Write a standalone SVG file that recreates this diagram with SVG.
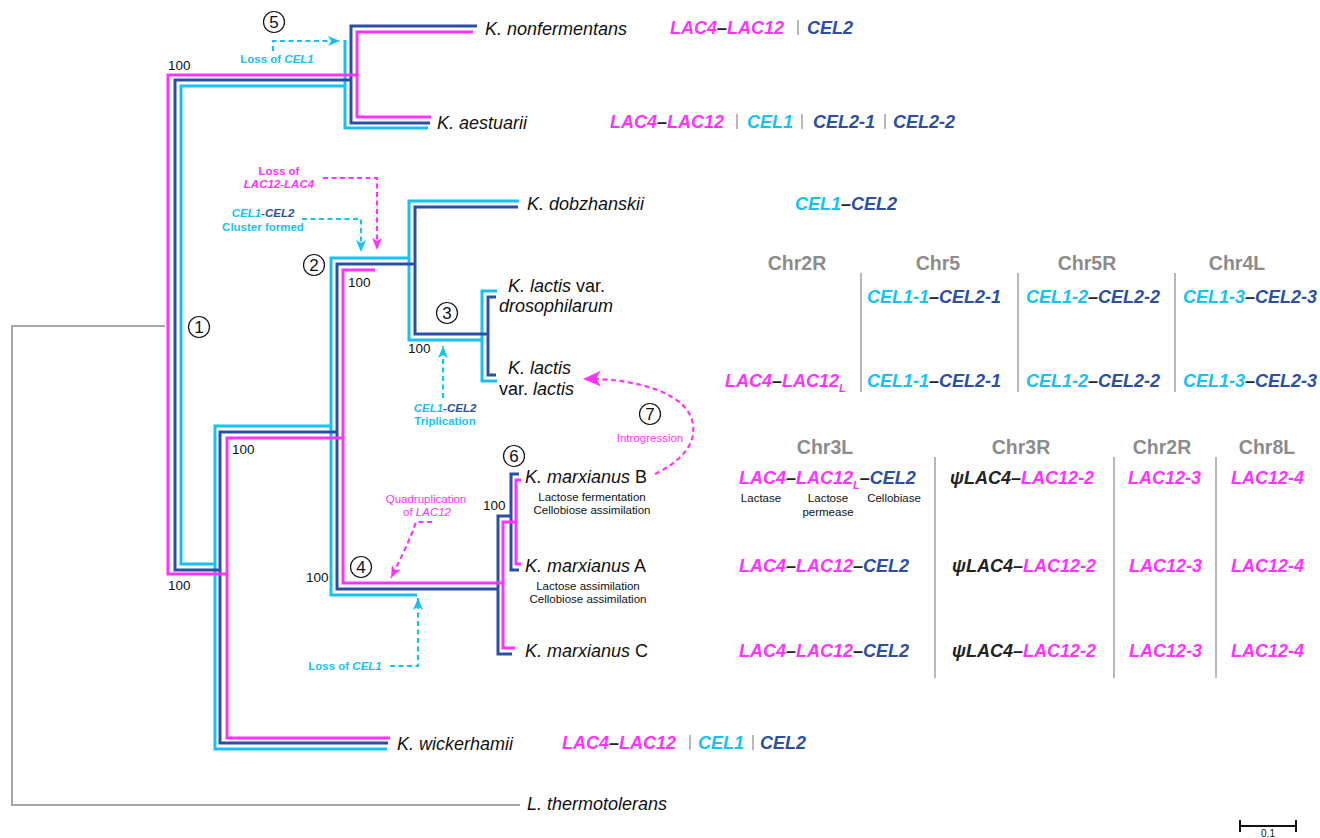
<svg xmlns="http://www.w3.org/2000/svg" width="1320" height="838" viewBox="0 0 1320 838">
<style>
text{font-family:"Liberation Sans",Arial,sans-serif}
.sp{font-style:italic;font-size:18px;fill:#111}
.r{font-style:normal}
.g{font-style:italic;font-weight:bold;font-size:18px}
.m{fill:#FF33FF}.c{fill:#17C2F2}.b{fill:#2D4FA3}.k{fill:#222}
.hd{font-weight:bold;font-size:19.5px;fill:#8c8c8c;text-anchor:middle}
.bs{font-size:13.5px;fill:#111}
.sm{font-size:11.5px;fill:#111;text-anchor:middle}
.an{font-size:11.5px;font-weight:bold;text-anchor:middle}
.anr{font-size:11.5px;text-anchor:middle}
.num{font-size:17px;fill:#111;text-anchor:middle}
.tm{stroke:#FF33FF;stroke-width:3;fill:none}
.tb{stroke:#2D4FA3;stroke-width:3;fill:none}
.tc{stroke:#17C2F2;stroke-width:3;fill:none}
.tg{stroke:#a6a6a6;stroke-width:2;fill:none}
.bar{stroke:#a6a6a6;stroke-width:1.6}
.sep{stroke:#a6a6a6;stroke-width:1.6}
.dc{stroke:#17C2F2;stroke-width:2.2;fill:none;stroke-dasharray:5 3.5}
.dm{stroke:#FF33FF;stroke-width:2.2;fill:none;stroke-dasharray:5 3.5}
.circ{fill:#fff;stroke:#111;stroke-width:1.2}
</style>
<defs>
<marker id="ac" markerUnits="userSpaceOnUse" viewBox="0 0 12 10" markerWidth="12" markerHeight="10" refX="12" refY="5" orient="auto"><path d="M0,0 L12,5 L0,10 L3,5 Z" fill="#17C2F2"/></marker>
<marker id="am" markerUnits="userSpaceOnUse" viewBox="0 0 12 10" markerWidth="12" markerHeight="10" refX="12" refY="5" orient="auto"><path d="M0,0 L12,5 L0,10 L3,5 Z" fill="#FF33FF"/></marker>
<marker id="amb" markerUnits="userSpaceOnUse" viewBox="0 0 18 16" markerWidth="18" markerHeight="16" refX="18" refY="8" orient="auto"><path d="M0,0 L18,8 L0,16 L5,8 Z" fill="#FF33FF"/></marker>
</defs>

<g id="connectors">
<path class="tg" d="M165,326 L12,326 L12,805 L520,805"/>
<path class="tc" d="M345,40 L345,128 L428,128"/>
<path class="tc" d="M345,86 L181,86 L181,564 L215,564"/>
<path class="tc" d="M331,426 L215,426 L215,749 L387,749"/>
<path class="tc" d="M409,258 L331,258 L331,595 L417,595"/>
<path class="tc" d="M519,201 L409,201 L409,340 L482,340"/>
<path class="tc" d="M497,291 L482,291 L482,381 L497,381"/>
<path class="tb" d="M477,26 L351,26 L351,123 L430,123"/>
<path class="tb" d="M351,80 L175,80 L175,570 L220,570"/>
<path class="tb" d="M337,432 L220,432 L220,743 L388,743"/>
<path class="tb" d="M415,264 L337,264 L337,589 L498,589"/>
<path class="tb" d="M518,207 L415,207 L415,334 L488,334"/>
<path class="tb" d="M496,297 L488,297 L488,375 L496,375"/>
<path class="tb" d="M511,516 L498,516 L498,654 L512,654"/>
<path class="tb" d="M519,474 L511,474 L511,570 L519,570"/>
<path class="tm" d="M473,32 L357,32 L357,117 L431,117"/>
<path class="tm" d="M357,75 L168,75 L168,574 L227,574"/>
<path class="tm" d="M343,438 L227,438 L227,738 L390,738"/>
<path class="tm" d="M375,270 L343,270 L343,583 L503,583"/>
<path class="tm" d="M516,522 L503,522 L503,648 L515,648"/>
<path class="tm" d="M521,480 L516,480 L516,564 L521,564"/>
<path stroke="#111" stroke-width="2" fill="none" d="M1239,826 L1297,826 M1240,820 L1240,832 M1296,820 L1296,832"/>
<path class="dc" d="M273,51 L273,41 L340,41" marker-end="url(#ac)"/>
<path class="dc" d="M302,219 L361,219 L361,252" marker-end="url(#ac)"/>
<path class="dm" d="M323,178 L377,178 L377,250" marker-end="url(#am)"/>
<path class="dc" d="M443,398 L443,346" marker-end="url(#ac)"/>
<path class="dm" d="M432,522 L416,522 C410,540 400,560 391,578" marker-end="url(#am)"/>
<path class="dc" d="M390,666 L418,666 L418,598" marker-end="url(#ac)"/>
<path class="dm" d="M655,474 C680,462 696,445 693,425 C690,395 640,378 583,379" marker-end="url(#amb)"/>
</g>

<g id="bootstrap">
<text class="bs" x="168" y="70">100</text>
<text class="bs" x="168" y="590">100</text>
<text class="bs" x="232" y="454">100</text>
<text class="bs" x="306" y="582">100</text>
<text class="bs" x="348" y="287">100</text>
<text class="bs" x="408" y="353">100</text>
<text class="bs" x="483" y="510">100</text>
<text x="1268" y="837" font-size="10" text-anchor="middle" fill="#111">0.1</text>
</g>

<g id="events">
<g id="ev1"><circle class="circ" cx="199" cy="327" r="10.5"/><text class="num" x="199" y="333">1</text></g>
<g id="ev2"><circle class="circ" cx="314" cy="265" r="10.5"/><text class="num" x="314" y="271">2</text></g>
<g id="ev3"><circle class="circ" cx="447" cy="313" r="10.5"/><text class="num" x="447" y="319">3</text></g>
<g id="ev4"><circle class="circ" cx="361" cy="567" r="10.5"/><text class="num" x="361" y="573">4</text></g>
<g id="ev5"><circle class="circ" cx="274" cy="22" r="10.5"/><text class="num" x="274" y="28">5</text></g>
<g id="ev6"><circle class="circ" cx="514" cy="456" r="10.5"/><text class="num" x="514" y="462">6</text></g>
<g id="ev7"><circle class="circ" cx="650" cy="414" r="10.5"/><text class="num" x="650" y="420">7</text></g>
<text class="an c" x="277" y="63">Loss of <tspan font-style="italic">CEL1</tspan></text>
<text class="an m" x="279" y="175">Loss of</text>
<text class="an m" x="279" y="188" font-style="italic">LAC12-LAC4</text>
<text class="an" x="263" y="217"><tspan class="c" font-style="italic">CEL1</tspan><tspan class="b" font-style="italic">-CEL2</tspan></text>
<text class="an c" x="263" y="231">Cluster formed</text>
<text class="an" x="445" y="412"><tspan class="c" font-style="italic">CEL1</tspan><tspan class="b" font-style="italic">-CEL2</tspan></text>
<text class="an c" x="445" y="425">Triplication</text>
<text class="anr m" x="426" y="503">Quadruplication</text>
<text class="anr m" x="427" y="516">of <tspan font-style="italic">LAC12</tspan></text>
<text class="an c" x="345" y="670">Loss of <tspan font-style="italic">CEL1</tspan></text>
<text class="anr m" x="650" y="442">Introgression</text>
</g>

<g id="species">
<g id="n-nonfermentans"><text class="sp" x="485" y="35">K. nonfermentans</text>
<text class="g" x="670" y="34"><tspan class="m">LAC4</tspan><tspan class="k">–</tspan><tspan class="m">LAC12</tspan></text>
<line class="bar" x1="798" y1="20" x2="798" y2="35"/>
<text class="g b" x="807" y="34">CEL2</text></g>

<g id="n-aestuarii"><text class="sp" x="437" y="129">K. aestuarii</text>
<text class="g" x="610" y="128"><tspan class="m">LAC4</tspan><tspan class="k">–</tspan><tspan class="m">LAC12</tspan></text>
<line class="bar" x1="737" y1="114" x2="737" y2="129"/>
<text class="g c" x="747" y="128">CEL1</text>
<line class="bar" x1="802" y1="114" x2="802" y2="129"/>
<text class="g b" x="813" y="128">CEL2-1</text>
<line class="bar" x1="885" y1="114" x2="885" y2="129"/>
<text class="g b" x="893" y="128">CEL2-2</text></g>

<g id="n-dobzhanskii"><text class="sp" x="527" y="210">K. dobzhanskii</text>
<text class="g" x="795" y="210"><tspan class="c">CEL1</tspan><tspan class="k">–</tspan><tspan class="b">CEL2</tspan></text></g>

<g id="n-drosophilarum"><text class="sp" x="508" y="292">K. lactis<tspan class="r"> var.</tspan></text>
<text class="sp" x="499" y="312">drosophilarum</text></g>

<g id="n-lactis"><text class="sp" x="508" y="374">K. lactis</text>
<text class="sp" x="499" y="395"><tspan class="r">var. </tspan>lactis</text></g>

<g id="n-marxB"><text class="sp" x="525" y="483">K. marxianus<tspan class="r"> B</tspan></text>
<text class="sm" x="592" y="501">Lactose fermentation</text>
<text class="sm" x="592" y="514">Cellobiose assimilation</text></g>

<g id="n-marxA"><text class="sp" x="525" y="572">K. marxianus<tspan class="r"> A</tspan></text>
<text class="sm" x="588" y="590">Lactose assimilation</text>
<text class="sm" x="588" y="603">Cellobiose assimilation</text></g>

<g id="n-marxC"><text class="sp" x="525" y="657">K. marxianus<tspan class="r"> C</tspan></text></g>

<g id="n-wickerhamii"><text class="sp" x="397" y="750">K. wickerhamii</text>
<text class="g" x="562" y="749"><tspan class="m">LAC4</tspan><tspan class="k">–</tspan><tspan class="m">LAC12</tspan></text>
<line class="bar" x1="690" y1="735" x2="690" y2="750"/>
<text class="g c" x="698" y="749">CEL1</text>
<line class="bar" x1="753" y1="735" x2="753" y2="750"/>
<text class="g b" x="760" y="749">CEL2</text></g>

<g id="n-thermotolerans"><text class="sp" x="527" y="810">L. thermotolerans</text></g>
</g>

<g id="table-lactis">
<text class="hd" x="797" y="270">Chr2R</text>
<text class="hd" x="938" y="270">Chr5</text>
<text class="hd" x="1087" y="270">Chr5R</text>
<text class="hd" x="1237" y="270">Chr4L</text>
<line class="sep" x1="861" y1="273" x2="861" y2="392"/>
<line class="sep" x1="1018" y1="273" x2="1018" y2="392"/>
<line class="sep" x1="1175" y1="273" x2="1175" y2="392"/>
<text class="g" x="867" y="303"><tspan class="c">CEL1-1</tspan><tspan class="k">–</tspan><tspan class="b">CEL2-1</tspan></text>
<text class="g" x="1026" y="303"><tspan class="c">CEL1-2</tspan><tspan class="k">–</tspan><tspan class="b">CEL2-2</tspan></text>
<text class="g" x="1183" y="303"><tspan class="c">CEL1-3</tspan><tspan class="k">–</tspan><tspan class="b">CEL2-3</tspan></text>
<text class="g" x="725" y="387"><tspan class="m">LAC4</tspan><tspan class="k">–</tspan><tspan class="m">LAC12</tspan><tspan class="m" font-size="11" dy="5">L</tspan></text>
<text class="g" x="867" y="387"><tspan class="c">CEL1-1</tspan><tspan class="k">–</tspan><tspan class="b">CEL2-1</tspan></text>
<text class="g" x="1026" y="387"><tspan class="c">CEL1-2</tspan><tspan class="k">–</tspan><tspan class="b">CEL2-2</tspan></text>
<text class="g" x="1183" y="387"><tspan class="c">CEL1-3</tspan><tspan class="k">–</tspan><tspan class="b">CEL2-3</tspan></text>
</g>

<g id="table-marxianus">
<text class="hd" x="825" y="454">Chr3L</text>
<text class="hd" x="1021" y="454">Chr3R</text>
<text class="hd" x="1162" y="454">Chr2R</text>
<text class="hd" x="1267" y="454">Chr8L</text>
<line class="sep" x1="935" y1="457" x2="935" y2="678"/>
<line class="sep" x1="1114" y1="457" x2="1114" y2="678"/>
<line class="sep" x1="1216" y1="457" x2="1216" y2="678"/>
<text class="g" x="739" y="484"><tspan class="m">LAC4</tspan><tspan class="k">–</tspan><tspan class="m">LAC12</tspan><tspan class="m" font-size="11" dy="5">L</tspan><tspan class="k" dy="-5">–</tspan><tspan class="b">CEL2</tspan></text>
<text class="sm" x="761" y="502">Lactase</text>
<text class="sm" x="828" y="502">Lactose</text>
<text class="sm" x="828" y="516">permease</text>
<text class="sm" x="894" y="502">Cellobiase</text>
<text class="g" x="950" y="484"><tspan class="k">ψLAC4–</tspan><tspan class="m">LAC12-2</tspan></text>
<text class="g m" x="1128" y="484">LAC12-3</text>
<text class="g m" x="1231" y="484">LAC12-4</text>
<text class="g" x="739" y="572"><tspan class="m">LAC4</tspan><tspan class="k">–</tspan><tspan class="m">LAC12</tspan><tspan class="k">–</tspan><tspan class="b">CEL2</tspan></text>
<text class="g" x="952" y="572"><tspan class="k">ψLAC4–</tspan><tspan class="m">LAC12-2</tspan></text>
<text class="g m" x="1129" y="572">LAC12-3</text>
<text class="g m" x="1231" y="572">LAC12-4</text>
<text class="g" x="739" y="657"><tspan class="m">LAC4</tspan><tspan class="k">–</tspan><tspan class="m">LAC12</tspan><tspan class="k">–</tspan><tspan class="b">CEL2</tspan></text>
<text class="g" x="952" y="657"><tspan class="k">ψLAC4–</tspan><tspan class="m">LAC12-2</tspan></text>
<text class="g m" x="1129" y="657">LAC12-3</text>
<text class="g m" x="1231" y="657">LAC12-4</text>
</g>
</svg>
